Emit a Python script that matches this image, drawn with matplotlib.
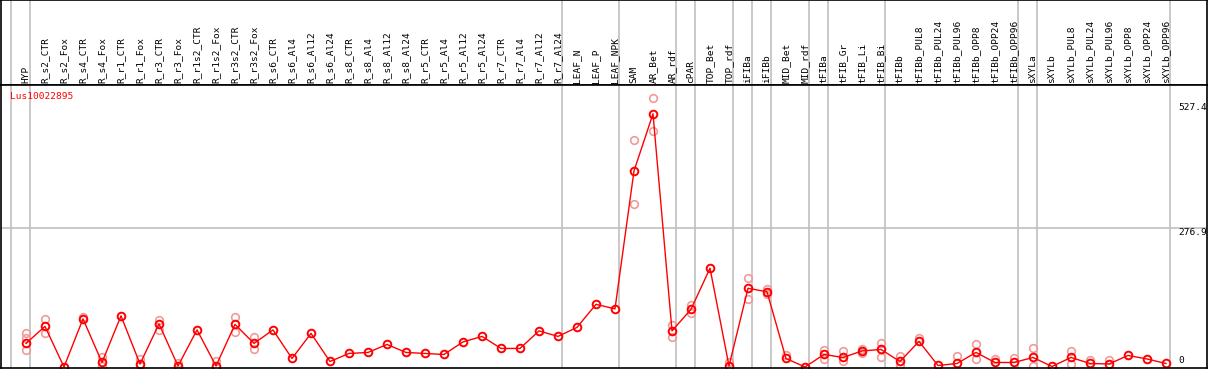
import numpy as np
import matplotlib
matplotlib.use("Agg")
import matplotlib.pyplot as plt
import matplotlib.transforms as mtransforms

# samples (x axis, left to right)
samples = [
    "HYP", "R_s2_CTR", "R_s2_Fox", "R_s4_CTR", "R_s4_Fox", "R_r1_CTR", "R_r1_Fox",
    "R_r3_CTR", "R_r3_Fox", "R_r1s2_CTR", "R_r1s2_Fox", "R_r3s2_CTR", "R_r3s2_Fox",
    "R_s6_CTR", "R_s6_Al4", "R_s6_Al12", "R_s6_Al24", "R_s8_CTR", "R_s8_Al4",
    "R_s8_Al12", "R_s8_Al24", "R_r5_CTR", "R_r5_Al4", "R_r5_Al12", "R_r5_Al24",
    "R_r7_CTR", "R_r7_Al4", "R_r7_Al12", "R_r7_Al24", "LEAF_N", "LEAF_P", "LEAF_NPK",
    "SAM", "AR_Bet", "AR_rdf", "cPAR", "TOP_Bet", "TOP_rdf", "iFIBa", "iFIBb",
    "MID_Bet", "MID_rdf", "tFIBa", "tFIB_Gr", "tFIB_Li", "tFIB_Bi", "tFIBb",
    "tFIBb_PUL8", "tFIBb_PUL24", "tFIBb_PUL96", "tFIBb_OPP8", "tFIBb_OPP24",
    "tFIBb_OPP96", "sXYLa", "sXYLb", "sXYLb_PUL8", "sXYLb_PUL24", "sXYLb_PUL96",
    "sXYLb_OPP8", "sXYLb_OPP24", "sXYLb_OPP96",
]

# mean expression
mean_vals = [
    47, 81, 0, 96, 9, 102, 6, 86, 2, 74, 2, 85, 47,
    74, 17, 67, 11, 27, 29, 45, 29, 27, 25, 50, 61, 37, 37, 72, 61,
    79, 125, 116,
    391, 505, 72, 115, 197, 2, 157, 150, 17, 0,
    25, 19, 32, 35, 11,
    51, 3, 7, 29, 9, 9,
    19, 1, 19, 7, 6, 23, 16, 7,
]

nan = np.nan
# replicates (only the ones visible apart from the mean)
rep_hi = [
    67, 95, nan, 100, 19, nan, 16, 94, 7, nan, 11, 100, 60,
    nan, nan, nan, nan, nan, nan, nan, nan, nan, nan, nan, nan, nan, nan, nan, nan,
    nan, nan, nan,
    452, 536, 84, 124, nan, 9, 177, 156, 24, nan,
    34, 32, 35, 47, 21,
    58, nan, 21, 46, 15, 17,
    37, nan, 32, 13, 13, nan, nan, nan,
]
rep_lo = [
    34, 68, nan, nan, 1, nan, 3, 74, nan, nan, nan, 70, 35,
    nan, nan, nan, nan, nan, nan, nan, nan, nan, nan, nan, nan, nan, nan, nan, nan,
    nan, nan, nan,
    326, 471, 59, 108, nan, nan, 135, 146, nan, nan,
    15, 12, 27, 19, 4,
    nan, nan, nan, 16, nan, nan,
    1, nan, 5, nan, nan, nan, nan, nan,
]
rep_extra = [58] + [nan] * 60

gene = "Lus10022895"
ytick_vals = [527.4, 276.9, 0]
group_ends = [-1, 0, 28, 31, 34, 35, 37, 38, 39, 41, 42, 45, 52, 53, 60]

W, H = 1209, 370
fig = plt.figure(figsize=(W / 100, H / 100), dpi=100)
mono = "DejaVu Sans Mono"

x = np.arange(len(samples))
xlim = ((1 - 26) / 19, (1207 - 26) / 19)

# label strip on top
ax_lab = fig.add_axes([1 / W, (H - 85) / H, 1206 / W, 85 / H])
ax_lab.set_xlim(xlim)
ax_lab.set_ylim(0, 1)
ax_lab.set_xticks([])
ax_lab.set_yticks([])
for s in ax_lab.spines.values():
    s.set_color("black")
    s.set_linewidth(1.2)
for g in group_ends:
    ax_lab.axvline(g + 0.21, color="#c0c0c0", lw=1.2, zorder=0)
for i, name in enumerate(samples):
    ax_lab.text(i, 2 / 85, name, rotation=90, ha="center", va="bottom",
                fontsize=6.8, family=mono)

# main plot
ax = fig.add_axes([1 / W, 2 / H, 1206 / W, 283 / H])
ax.set_xlim(xlim)
ax.set_ylim(-2, 562.4)
ax.set_xticks([])
ax.set_yticks([])
for s in ax.spines.values():
    s.set_color("black")
    s.set_linewidth(1.2)
for g in group_ends:
    ax.axvline(g + 0.21, color="#c0c0c0", lw=1.2, zorder=0)
ax.axhline(276.9, color="#c0c0c0", lw=1.2, zorder=0)

rep_style = dict(ls="none", marker="o", ms=5.5, mfc="none", mec="#f09a9a", mew=1.2)
ax.plot(x, rep_hi, **rep_style)
ax.plot(x, rep_lo, **rep_style)
ax.plot(x, rep_extra, **rep_style)

ax.plot(x, mean_vals, color="red", lw=1, marker="o", ms=5.5, mfc="none",
        mec="red", mew=1.4)

ax.text(9 / 1206, 1 - 7 / 283, gene, transform=ax.transAxes, color="red",
        fontsize=6.8, family=mono, ha="left", va="top")

trans = mtransforms.blended_transform_factory(ax.transAxes, ax.transData)
xt = (1178 - 1) / 1206
ax.text(xt, ytick_vals[0], "527.4", transform=trans, fontsize=6.8, family=mono,
        ha="left", va="top", clip_on=True)
ax.text(xt, ytick_vals[1], "276.9", transform=trans, fontsize=6.8, family=mono,
        ha="left", va="top", clip_on=True)
ax.text(xt, 4, "0", transform=trans, fontsize=6.8, family=mono,
        ha="left", va="bottom")

fig.savefig("out.png", dpi=100)
